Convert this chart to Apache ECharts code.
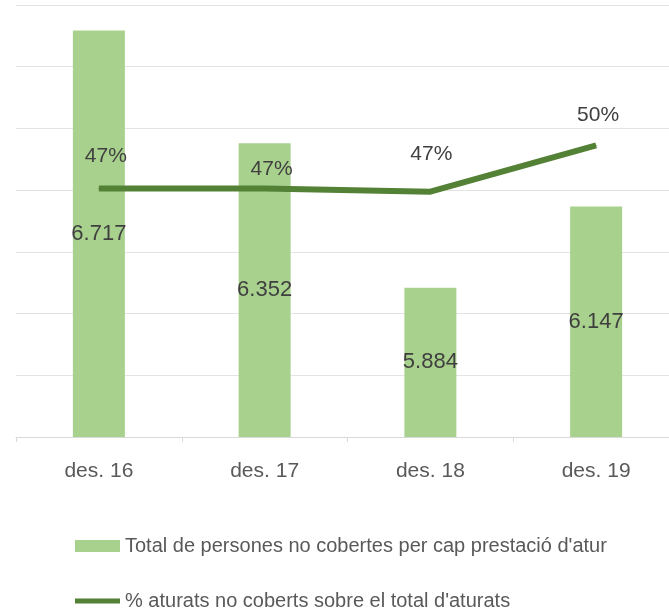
<!DOCTYPE html>
<html>
<head>
<meta charset="utf-8">
<script src="https://cdn.jsdelivr.net/npm/echarts@6/dist/echarts.min.js"></script>
<style>
html, body { margin: 0; padding: 0; background: #fff; }
#chart { width: 669px; height: 611px; }
</style>
</head>
<body>
<div id="chart"></div>
<script>
// dades
const categories = ['des. 16', 'des. 17', 'des. 18', 'des. 19'];
const totalNoCoberts = [6717, 6352, 5884, 6147];
const pctNoCoberts = [47.1, 47.1, 46.9, 49.9];
const barName = 'Total de persones no cobertes per cap prestació d\'atur';
const lineName = '% aturats no coberts sobre el total d\'aturats';

// desplaçament de les etiquetes de la línia (només estil)
const pctLabelOffset = [[7, -16], [7, -3], [1, -21], [2, -14]];

const font = '"Liberation Sans", Arial, sans-serif';

let myChart = echarts.init(document.getElementById('chart'));

let option = {
    animation: false,
    textStyle: { fontFamily: font },
    grid: { left: 16, width: 663, top: 5, bottom: 174, outerBoundsMode: 'none' },
    legend: [{
        orient: 'vertical',
        left: 75,
        top: 536,
        padding: 0,
        itemWidth: 45,
        itemHeight: 12,
        data: [{ name: barName, icon: 'rect' }],
        textStyle: { fontFamily: font, fontSize: 20, color: '#595959' }
    }, {
        orient: 'vertical',
        left: 75,
        top: 591,
        padding: 0,
        itemWidth: 45,
        itemHeight: 5,
        data: [{ name: lineName, icon: 'rect' }],
        textStyle: { fontFamily: font, fontSize: 20, color: '#595959' }
    }],
    xAxis: {
        type: 'category',
        data: categories,
        axisLine: { lineStyle: { color: '#d9d9d9', width: 1 } },
        axisTick: { show: true, length: 5, lineStyle: { color: '#d9d9d9' } },
        axisLabel: { color: '#595959', fontSize: 21, margin: 24, fontFamily: font }
    },
    yAxis: [{
        type: 'value',
        min: 5400,
        max: 6800,
        interval: 200,
        axisLabel: { show: false },
        axisLine: { show: false },
        axisTick: { show: false },
        splitLine: { lineStyle: { color: '#e3e3e3', width: 1 } }
    }, {
        type: 'value',
        min: 31,
        max: 59,
        show: false,
        splitLine: { show: false }
    }],
    series: [{
        name: barName,
        type: 'bar',
        data: totalNoCoberts,
        barWidth: 52,
        itemStyle: { color: '#a9d18e' },
        label: {
            show: true,
            position: 'inside',
            color: '#3f3f3f',
            fontSize: 22,
            fontFamily: font,
            formatter: p => p.value.toLocaleString('de-DE')
        }
    }, {
        name: lineName,
        type: 'line',
        yAxisIndex: 1,
        data: pctNoCoberts.map((v, i) => ({ value: v, label: { offset: pctLabelOffset[i] } })),
        symbol: 'circle',
        symbolSize: 1,
        itemStyle: { color: '#538135' },
        lineStyle: { color: '#538135', width: 6 },
        z: 5,
        label: {
            show: true,
            position: 'top',
            color: '#3f3f3f',
            fontSize: 21,
            fontFamily: font,
            formatter: p => Math.round(p.value) + '%'
        }
    }]
};

myChart.setOption(option);
</script>
</body>
</html>
